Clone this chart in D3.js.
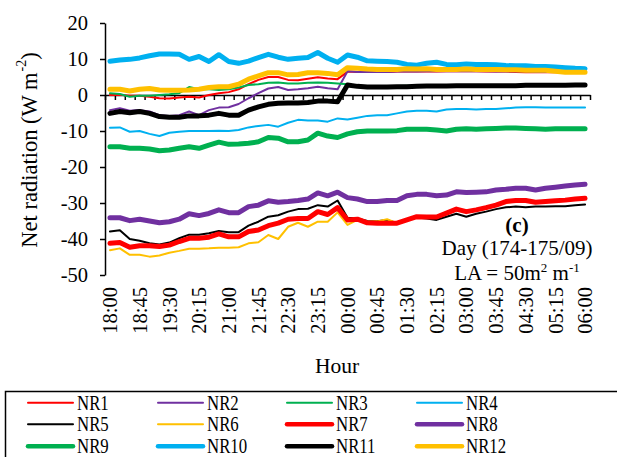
<!DOCTYPE html>
<html><head><meta charset="utf-8">
<script src="https://cdn.jsdelivr.net/npm/d3@7"></script>
<style>
html,body{margin:0;padding:0;background:#fff;}
svg{display:block;}
text{font-family:"Liberation Serif","Times New Roman",serif;fill:#000;}
</style></head>
<body>
<svg id="chart" width="617" height="457"></svg>
<script>
const categories = ["18:00","18:15","18:30","18:45","19:00","19:15","19:30","19:45","20:00","20:15","20:30","20:45","21:00","21:15","21:30","21:45","22:00","22:15","22:30","22:45","23:00","23:15","23:30","23:45","00:00","00:15","00:30","00:45","01:00","01:15","01:30","01:45","02:00","02:15","02:30","02:45","03:00","03:15","03:30","03:45","04:00","04:15","04:30","04:45","05:00","05:15","05:30","05:45","06:00"];
const tickLabels = ["18:00","18:45","19:30","20:15","21:00","21:45","22:30","23:15","00:00","00:45","01:30","02:15","03:00","03:45","04:30","05:15","06:00"];
const yTicks = [20,10,0,-10,-20,-30,-40,-50];

const NR1 = [0.0,0.1,-0.2,-0.2,-0.5,-0.9,-1.0,-0.7,-0.5,-0.7, 0.0,0.5,0.8,1.6,3.0,4.2,5.0,5.0,4.2,4.1, 4.5,4.9,4.6,4.4,6.5,6.4,6.4,6.4,6.4,6.5, 6.5,6.5,6.5,6.5,6.6,6.6,6.6,6.6,6.5,6.5, 6.5,6.4,6.3,6.3,6.3,6.3,6.3,6.2,6.2];
const NR2 = [-4.2,-3.7,-4.4,-4.2,-4.6,-5.6,-5.8,-5.6,-4.6,-5.6, -4.2,-3.5,-3.4,-2.5,-0.9,0.5,1.8,2.2,1.4,1.6, 1.9,2.3,1.9,1.6,6.6,6.4,6.4,6.4,6.4,6.5, 6.5,6.5,6.6,6.6,6.6,6.6,6.6,6.6,6.6,6.5, 6.5,6.5,6.5,6.4,6.4,6.4,6.3,6.3,6.2];
const NR3 = [0.5,0.3,-0.5,-0.2,-0.2,0.0,0.2,0.5,2.2,1.6, 1.6,1.4,1.6,2.1,2.8,3.0,3.4,3.5,3.2,3.2, 3.4,3.5,3.4,3.2,3.0,2.6,2.5,2.5,2.5,2.5, 2.6,2.6,2.6,2.6,2.6,2.6,2.6,2.6,2.6,2.6, 2.6,2.6,2.6,2.6,2.6,2.6,2.6,2.6,2.6];
const NR4 = [-9.1,-9.0,-10.2,-10.0,-10.8,-11.4,-10.5,-10.2,-10.0,-10.0, -10.0,-9.9,-10.0,-9.7,-9.0,-8.6,-8.3,-8.8,-7.7,-6.9, -7.1,-7.1,-7.4,-6.5,-6.8,-6.3,-5.8,-5.6,-5.6,-5.1, -4.6,-4.4,-4.4,-4.6,-4.0,-3.9,-3.9,-4.0,-3.9,-3.9, -3.7,-3.5,-3.4,-3.4,-3.5,-3.5,-3.5,-3.5,-3.5];
const NR5 = [-37.9,-37.6,-40.0,-40.5,-41.2,-41.5,-41.0,-39.8,-38.8,-38.8, -38.4,-37.8,-38.1,-38.1,-36.3,-35.2,-33.8,-33.4,-32.4,-31.7, -31.6,-30.6,-31.0,-29.3,-34.1,-34.3,-35.0,-35.1,-34.7,-35.6, -34.7,-34.0,-34.3,-34.7,-33.8,-33.0,-33.8,-33.0,-32.4,-31.7, -31.2,-31.0,-31.2,-31.0,-31.0,-30.9,-30.9,-30.6,-30.4];
const NR6 = [-43.1,-42.6,-44.4,-44.4,-44.9,-44.6,-43.8,-43.3,-42.7,-42.7, -42.6,-42.4,-42.4,-42.3,-41.2,-40.9,-38.9,-40.0,-36.6,-35.5, -36.6,-35.2,-35.2,-32.6,-36.1,-34.7,-35.2,-35.1,-34.5,-35.6, -34.8,-33.9,-34.1,-34.0,-33.0,-32.0,-32.6,-32.1,-31.6,-30.8, -29.9,-29.6,-29.6,-30.0,-29.8,-29.6,-29.4,-29.1,-28.9];
const NR7 = [-41.2,-41.0,-42.3,-41.9,-41.9,-42.1,-41.7,-40.7,-39.8,-39.8, -39.5,-38.6,-39.4,-39.4,-37.9,-37.5,-36.3,-35.6,-34.5,-34.3, -34.3,-32.4,-33.2,-31.3,-34.7,-34.5,-35.5,-35.6,-35.6,-35.6, -34.7,-33.8,-33.9,-33.9,-32.8,-31.7,-32.4,-31.9,-31.3,-30.6, -29.6,-29.3,-29.3,-29.8,-29.6,-29.4,-29.2,-28.9,-28.7];
const NR8 = [-34.1,-34.1,-34.9,-34.5,-35.0,-35.5,-35.2,-34.5,-33.0,-33.5, -32.9,-31.9,-32.7,-32.7,-31.0,-30.6,-29.4,-29.8,-29.6,-29.3, -28.9,-27.2,-28.0,-27.0,-28.5,-28.9,-29.6,-29.6,-29.3,-29.3, -28.0,-27.6,-27.6,-28.0,-27.8,-26.9,-27.1,-27.0,-26.9,-26.4, -26.2,-25.9,-25.9,-26.4,-25.9,-25.6,-25.3,-25.0,-24.8];
const NR9 = [-14.4,-14.4,-14.8,-14.8,-15.0,-15.5,-15.3,-14.8,-14.4,-14.8, -13.9,-13.1,-13.7,-13.6,-13.4,-13.0,-11.8,-12.0,-13.0,-13.0, -12.5,-10.6,-11.4,-11.8,-10.8,-10.2,-10.0,-10.0,-10.0,-9.9, -9.5,-9.5,-9.5,-9.7,-10.0,-9.5,-9.4,-9.5,-9.4,-9.3, -9.2,-9.2,-9.3,-9.4,-9.5,-9.4,-9.4,-9.4,-9.4];
const NR10 = [9.4,9.7,9.9,10.3,10.9,11.4,11.4,11.3,9.9,10.7, 9.3,11.2,9.3,8.8,9.4,10.4,11.3,10.5,9.9,10.2, 10.4,11.8,10.2,9.1,11.1,10.5,9.5,9.4,9.3,9.1, 8.5,8.3,8.8,9.1,8.5,8.4,8.6,8.5,8.5,8.4, 8.2,8.1,8.1,7.9,7.9,7.8,7.6,7.4,7.3];
const NR11 = [-5.1,-4.6,-4.9,-4.6,-5.1,-6.0,-6.2,-6.2,-5.8,-5.8, -5.6,-5.1,-5.6,-5.6,-4.2,-3.3,-2.6,-2.3,-2.2,-2.2, -2.1,-1.7,-1.7,-1.9,2.8,2.4,2.2,2.2,2.2,2.3, 2.3,2.4,2.5,2.5,2.5,2.6,2.6,2.6,2.6,2.6, 2.6,2.6,2.7,2.7,2.7,2.7,2.7,2.8,2.8];
const NR12 = [1.6,1.6,1.1,1.6,1.8,1.4,1.3,1.3,1.4,1.6, 2.1,2.3,2.3,3.0,4.4,5.3,6.2,6.2,5.6,5.7, 6.2,6.2,6.0,5.6,7.6,7.4,7.2,7.1,7.1,7.1, 7.3,7.2,7.3,7.1,7.1,7.1,7.2,7.1,7.1,7.1, 7.0,7.0,6.9,6.9,6.9,6.6,6.3,6.3,6.3];

const seriesNames = ["NR1","NR2","NR3","NR4","NR5","NR6","NR7","NR8","NR9","NR10","NR11","NR12"];
const seriesValues = [NR1,NR2,NR3,NR4,NR5,NR6,NR7,NR8,NR9,NR10,NR11,NR12];
const seriesColors = ["#FF0000","#7030A0","#00B050","#00B0F0","#000000","#FFC000","#FF0000","#7030A0","#00B050","#00B0F0","#000000","#FFC000"];
const seriesWidths = [2,2,2,2,2,2,5,5,5,5,5,5];

const svg = d3.select("#chart");
svg.append("rect").attr("width",617).attr("height",457).attr("fill","#fff");

const pLeft = 105, pRight = 590, pTop = 23, pBottom = 275;
const xb = d3.scaleLinear().domain([0, categories.length]).range([pLeft, pRight]);
const xc = i => xb(i + 0.5);
const y = d3.scaleLinear().domain([-50, 20]).range([pBottom, pTop]);

// Y axis
const yAxis = svg.append("g").attr("transform", `translate(${pLeft},0)`)
  .call(d3.axisLeft(y).tickValues(yTicks).tickSize(5).tickSizeOuter(0).tickPadding(12).tickFormat(d => String(d)));
yAxis.select(".domain").attr("stroke","#000").attr("stroke-width",1.5);
yAxis.selectAll(".tick line").attr("stroke","#000").attr("stroke-width",1.5);
yAxis.selectAll(".tick text").attr("font-size","20.5px").attr("font-family","Liberation Serif, Times New Roman, serif").attr("fill","#000");

// X axis at y=0 with ticks at category boundaries
const xAxis = svg.append("g").attr("transform", `translate(0,${y(0)})`)
  .call(d3.axisBottom(xb).tickValues(d3.range(categories.length + 1)).tickSize(5).tickSizeOuter(0).tickFormat(""));
xAxis.select(".domain").attr("stroke","#000").attr("stroke-width",1.5);
xAxis.selectAll(".tick line").attr("stroke","#000").attr("stroke-width",1.5);

// Category tick labels at bottom (rotated)
const labelIdx = tickLabels.map(l => categories.indexOf(l));
svg.append("g").selectAll("text").data(labelIdx).join("text")
  .attr("transform", i => `translate(${xc(i)},287) rotate(-90)`)
  .attr("text-anchor","end").attr("dy","0.35em")
  .attr("font-size","20.5px")
  .text(i => categories[i]);

// Lines
const line = d3.line().x((d,i) => xc(i)).y(d => y(d));
svg.append("g").selectAll("path").data(seriesValues).join("path")
  .attr("d", d => line(d))
  .attr("fill","none")
  .attr("stroke", (d,i) => seriesColors[i])
  .attr("stroke-width", (d,i) => seriesWidths[i])
  .attr("stroke-linejoin","round").attr("stroke-linecap","round");

// Axis titles
svg.append("text").attr("x",337).attr("y",373).attr("text-anchor","middle").attr("font-size","21.5px").text("Hour");
const yt = svg.append("text").attr("transform","translate(29,150) rotate(-90)").attr("text-anchor","middle").attr("dy","0.35em").attr("font-size","22.5px");
yt.append("tspan").text("Net radiation (W m");
yt.append("tspan").attr("font-size","14px").attr("dy","-0.75em").attr("dx","1").text("-2");
yt.append("tspan").attr("dy","0.45em").text(")");

// Annotations
svg.append("text").attr("x",517).attr("y",232).attr("text-anchor","middle").attr("font-size","21px").attr("font-weight","bold").text("(c)");
svg.append("text").attr("x",517).attr("y",255).attr("text-anchor","middle").attr("font-size","21px").text("Day (174-175/09)");
const la = svg.append("text").attr("x",517).attr("y",280).attr("text-anchor","middle").attr("font-size","21px");
la.append("tspan").text("LA = 50m");
la.append("tspan").attr("font-size","13px").attr("dy","-8").text("2");
la.append("tspan").attr("dy","8").text(" m");
la.append("tspan").attr("font-size","13px").attr("dy","-8").text("-1");

// Legend
svg.append("rect").attr("x",5.5).attr("y",391.5).attr("width",640).attr("height",100)
  .attr("fill","none").attr("stroke","#000").attr("stroke-width",1.5);
const colX = [28,158,287,417], rowY = [402.7,424.3,446.2];
const leg = svg.append("g").selectAll("g").data(seriesNames).join("g")
  .attr("transform",(d,i) => `translate(${colX[i%4]},${rowY[Math.floor(i/4)]})`);
leg.append("line").attr("x1",0).attr("x2",45).attr("y1",0).attr("y2",0)
  .attr("stroke",(d,i) => seriesColors[i]).attr("stroke-width",(d,i) => seriesWidths[i] === 2 ? 2 : 4.5)
  .attr("stroke-linecap","round");
leg.append("text").attr("transform","translate(49,7) scale(0.82,1)").attr("font-size","20.5px").text(d => d);
</script>
</body></html>
